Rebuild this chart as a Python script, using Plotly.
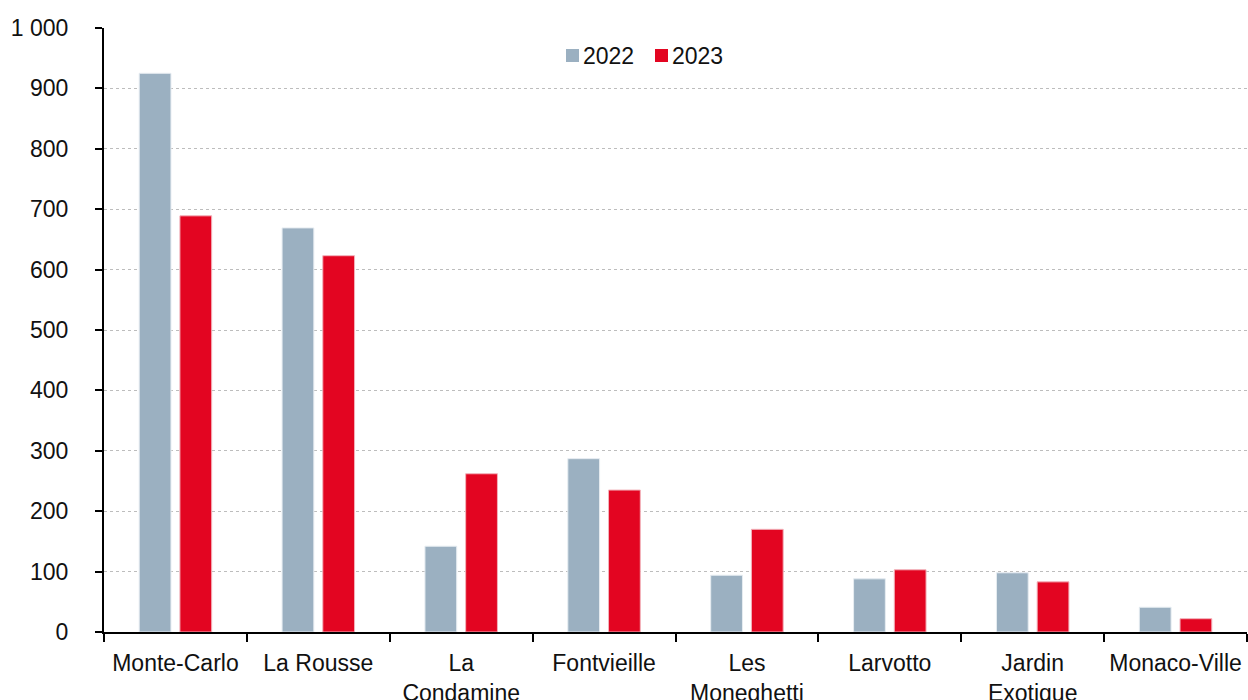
import plotly.graph_objects as go

quartiers = ["Monte-Carlo", "La Rousse", "La<br>Condamine", "Fontvieille",
             "Les<br>Moneghetti", "Larvotto", "Jardin<br>Exotique", "Monaco-Ville"]
valeurs_2022 = [925, 669, 142, 287, 94, 88, 98, 41]
valeurs_2023 = [689, 623, 262, 235, 170, 103, 83, 22]
annees = ["2022", "2023"]
couleurs = ["#9bb0c1", "#e30521"]
y_ticks = [0, 100, 200, 300, 400, 500, 600, 700, 800, 900, 1000]
y_labels = ["0", "100", "200", "300", "400", "500", "600", "700", "800", "900", "1 000"]

FONT = "Liberation Sans, Arial, Helvetica, sans-serif"
FS = 23

fig = go.Figure()
for nom, vals, coul, bord in zip(annees, [valeurs_2022, valeurs_2023], couleurs,
                                 ["#e6ecf1", "#f2b3bb"]):
    fig.add_trace(go.Bar(name=nom, x=quartiers, y=vals, showlegend=False,
                         marker=dict(color=coul, line=dict(color=bord, width=1))))

# Legend drawn as small squares and labels along the top of the plot
W, H, L, T = 1143.0, 604.0, 104.0, 28.0
def px_x(p):
    return (p - L) / W
def px_y(p):
    return 1 - (p - T) / H

legend_x = [566, 655]
for xs, nom, coul in zip(legend_x, annees, couleurs):
    fig.add_shape(type="rect", xref="paper", yref="paper",
                  x0=px_x(xs), x1=px_x(xs + 13), y0=px_y(62), y1=px_y(49),
                  fillcolor=coul, line=dict(width=0))
    fig.add_annotation(xref="paper", yref="paper", x=px_x(xs + 15), y=px_y(56),
                       text=nom, showarrow=False, xanchor="left", yanchor="middle",
                       font=dict(family=FONT, size=FS, color="#111111"))

fig.update_layout(
    width=1248, height=700,
    margin=dict(l=104, r=1, t=28, b=68),
    paper_bgcolor="white", plot_bgcolor="white",
    barmode="group", bargap=0.43, bargroupgap=0.22,
    font=dict(family=FONT, size=FS, color="#111111"),
    showlegend=False,
)

fig.update_yaxes(
    range=[0, 1000], tickvals=y_ticks, ticktext=y_labels,
    showline=True, linecolor="black", linewidth=2,
    ticks="outside", ticklen=7, tickwidth=2, tickcolor="black",
    ticklabelstandoff=22, automargin=False,
    showgrid=True, gridcolor="#bdbdbd", griddash="dot", gridwidth=1,
    zeroline=False,
    tickfont=dict(family=FONT, size=FS, color="#111111"),
)
fig.update_xaxes(
    showline=True, linecolor="black", linewidth=2,
    ticks="outside", tickson="boundaries", ticklen=8, tickwidth=2, tickcolor="black",
    ticklabelstandoff=9, automargin=False,
    showgrid=False, zeroline=False,
    tickfont=dict(family=FONT, size=FS, color="#111111"),
    tickangle=0,
)

fig.write_html("out.html")
